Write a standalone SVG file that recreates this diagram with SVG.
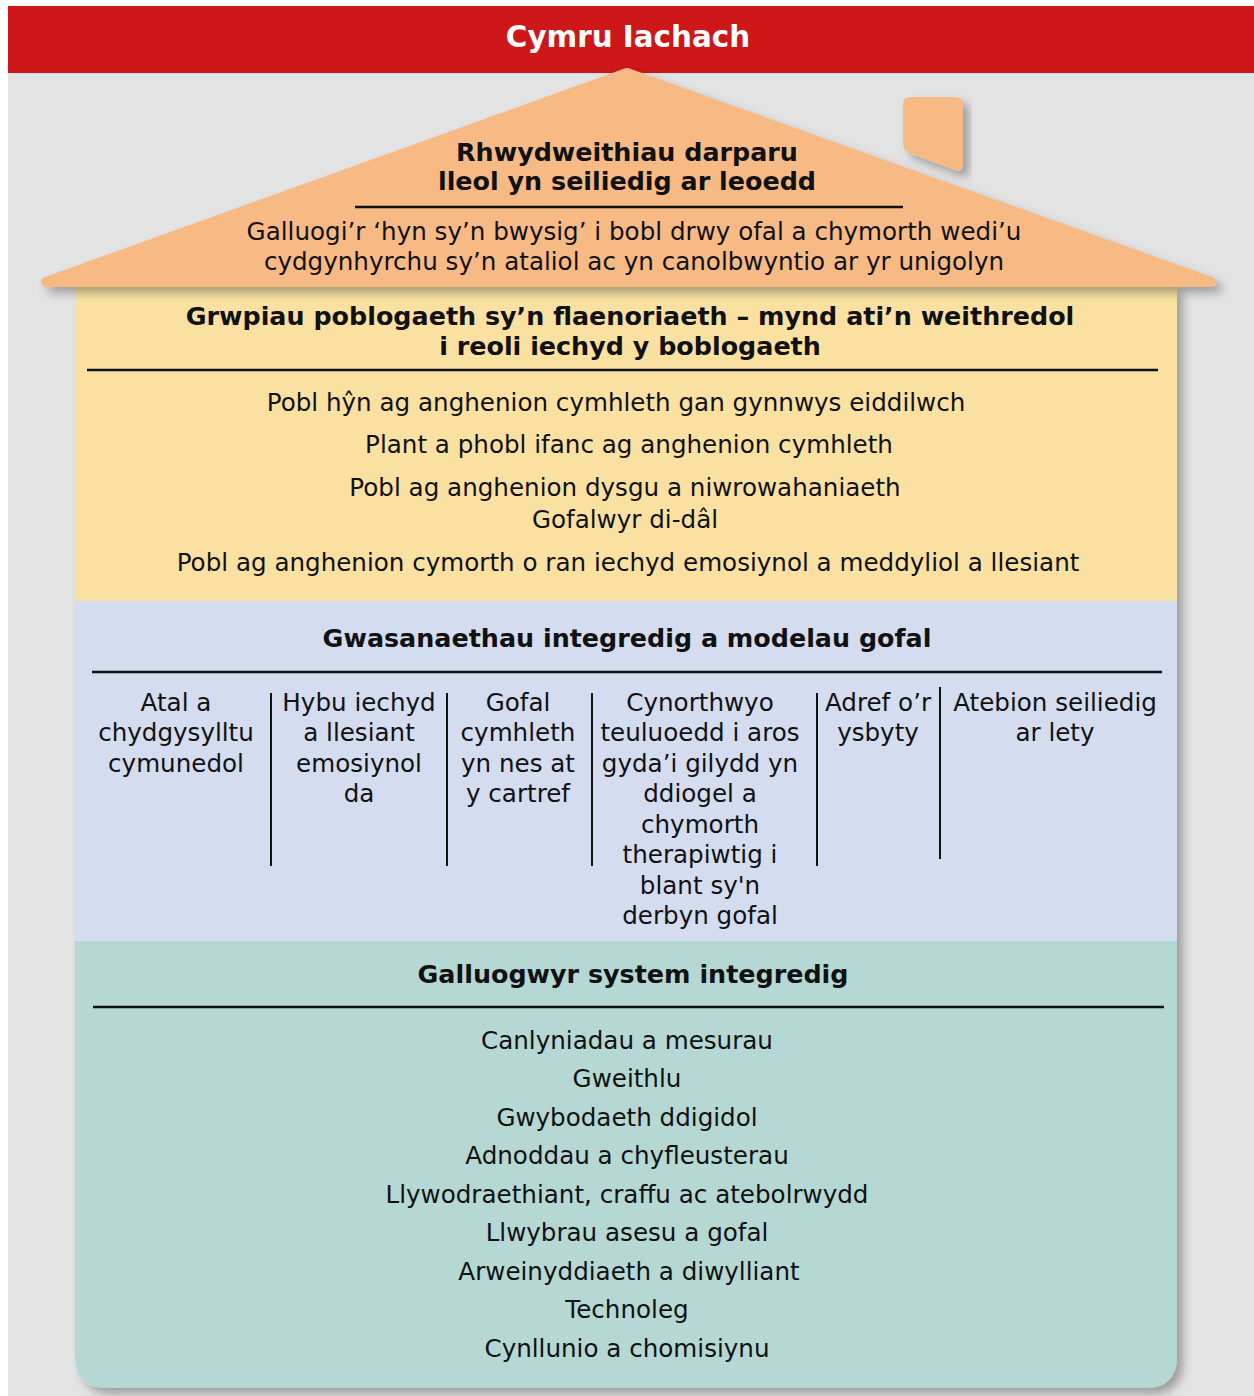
<svg xmlns="http://www.w3.org/2000/svg" width="1254" height="1396" viewBox="0 0 1254 1396">
<style>
text{font-family:"DejaVu Sans","Noto Sans",sans-serif;fill:#111;text-anchor:middle}
.t{font-size:24.6px}
.b{font-size:25.4px;font-weight:bold}
.h{font-size:29.4px;font-weight:bold;fill:#fff}
.rule{stroke:#111;stroke-width:2.5}
.div{stroke:#111;stroke-width:2}
</style>
<defs>
<filter id="sh" x="-10%" y="-10%" width="125%" height="125%">
<feDropShadow dx="6" dy="6" stdDeviation="5" flood-color="#000" flood-opacity="0.3"/>
</filter>
</defs>
<rect x="0" y="0" width="1254" height="1396" fill="#fff"/>
<rect x="8" y="73" width="1246" height="1323" fill="#e3e3e3"/>
<g id="header">
<rect x="8" y="6" width="1246" height="67" fill="#cd1719"/>
<text class="h" x="628" y="47">Cymru Iachach</text>
</g>
<g id="chimney">
<path d="M911,97 L955,97 Q963,97 963,105 L963,164 Q963,173 955,170 L909,153 Q903,150 903,142 L903,105 Q903,97 911,97 Z" fill="#f7ba84" filter="url(#sh)"/>
</g>
<g id="body">
<path d="M75,287 L1177,287 L1177,1356 Q1177,1388 1145,1388 L107,1388 Q75,1388 75,1356 Z" fill="#b5d8d5" filter="url(#sh)"/>
<rect x="75" y="287" width="1102" height="314" fill="#fae1a1"/>
<rect x="75" y="601" width="1102" height="340" fill="#d4ddef"/>
</g>
<g id="roof">
<polygon points="627,73 1211,282 46,282" fill="#f7ba84" stroke="#f7ba84" stroke-width="10" stroke-linejoin="round" filter="url(#sh)"/>
<text class="b" x="627" y="161">Rhwydweithiau darparu</text>
<text class="b" x="627" y="190">lleol yn seiliedig ar leoedd</text>
<line class="rule" x1="355" y1="207" x2="903" y2="207"/>
<text class="t" x="634" y="240">Galluogi’r ‘hyn sy’n bwysig’ i bobl drwy ofal a chymorth wedi’u</text>
<text class="t" x="634" y="270">cydgynhyrchu sy’n ataliol ac yn canolbwyntio ar yr unigolyn</text>
</g>
<g id="priority-groups">
<text class="b" x="630" y="325">Grwpiau poblogaeth sy’n flaenoriaeth – mynd ati’n weithredol</text>
<text class="b" x="630" y="355">i reoli iechyd y boblogaeth</text>
<line class="rule" x1="87" y1="370" x2="1158" y2="370"/>
<text class="t" x="616" y="411">Pobl hŷn ag anghenion cymhleth gan gynnwys eiddilwch</text>
<text class="t" x="629" y="453">Plant a phobl ifanc ag anghenion cymhleth</text>
<text class="t" x="625" y="496">Pobl ag anghenion dysgu a niwrowahaniaeth</text>
<text class="t" x="625" y="528">Gofalwyr di-dâl</text>
<text class="t" x="628" y="571">Pobl ag anghenion cymorth o ran iechyd emosiynol a meddyliol a llesiant</text>
</g>
<g id="services">
<text class="b" x="627" y="647">Gwasanaethau integredig a modelau gofal</text>
<line class="rule" x1="92" y1="672" x2="1162" y2="672"/>
<g id="col-atal">
<text class="t" x="176" y="711">Atal a</text>
<text class="t" x="176" y="741">chydgysylltu</text>
<text class="t" x="176" y="772">cymunedol</text>
</g>
<g id="col-hybu">
<text class="t" x="359" y="711">Hybu iechyd</text>
<text class="t" x="359" y="741">a llesiant</text>
<text class="t" x="359" y="772">emosiynol</text>
<text class="t" x="359" y="802">da</text>
</g>
<g id="col-gofal">
<text class="t" x="518" y="711">Gofal</text>
<text class="t" x="518" y="741">cymhleth</text>
<text class="t" x="518" y="772">yn nes at</text>
<text class="t" x="518" y="802">y cartref</text>
</g>
<g id="col-cynorthwyo">
<text class="t" x="700" y="711">Cynorthwyo</text>
<text class="t" x="700" y="741">teuluoedd i aros</text>
<text class="t" x="700" y="772">gyda’i gilydd yn</text>
<text class="t" x="700" y="802">ddiogel a</text>
<text class="t" x="700" y="833">chymorth</text>
<text class="t" x="700" y="863">therapiwtig i</text>
<text class="t" x="700" y="894">blant sy'n</text>
<text class="t" x="700" y="924">derbyn gofal</text>
</g>
<g id="col-adref">
<text class="t" x="878" y="711">Adref o’r</text>
<text class="t" x="878" y="741">ysbyty</text>
</g>
<g id="col-atebion">
<text class="t" x="1055" y="711">Atebion seiliedig</text>
<text class="t" x="1055" y="741">ar lety</text>
</g>
<g id="dividers">
<line class="div" x1="271" y1="693" x2="271" y2="866"/>
<line class="div" x1="447" y1="693" x2="447" y2="866"/>
<line class="div" x1="592" y1="693" x2="592" y2="866"/>
<line class="div" x1="817" y1="693" x2="817" y2="866"/>
<line class="div" x1="940" y1="687" x2="940" y2="859"/>
</g>
</g>
<g id="enablers">
<text class="b" x="633" y="983">Galluogwyr system integredig</text>
<line class="rule" x1="93" y1="1007" x2="1164" y2="1007"/>
<text class="t" x="627" y="1049">Canlyniadau a mesurau</text>
<text class="t" x="627" y="1087">Gweithlu</text>
<text class="t" x="627" y="1126">Gwybodaeth ddigidol</text>
<text class="t" x="627" y="1164">Adnoddau a chyfleusterau</text>
<text class="t" x="627" y="1203">Llywodraethiant, craffu ac atebolrwydd</text>
<text class="t" x="627" y="1241">Llwybrau asesu a gofal</text>
<text class="t" x="629" y="1280">Arweinyddiaeth a diwylliant</text>
<text class="t" x="627" y="1318">Technoleg</text>
<text class="t" x="627" y="1357">Cynllunio a chomisiynu</text>
</g>
</svg>
